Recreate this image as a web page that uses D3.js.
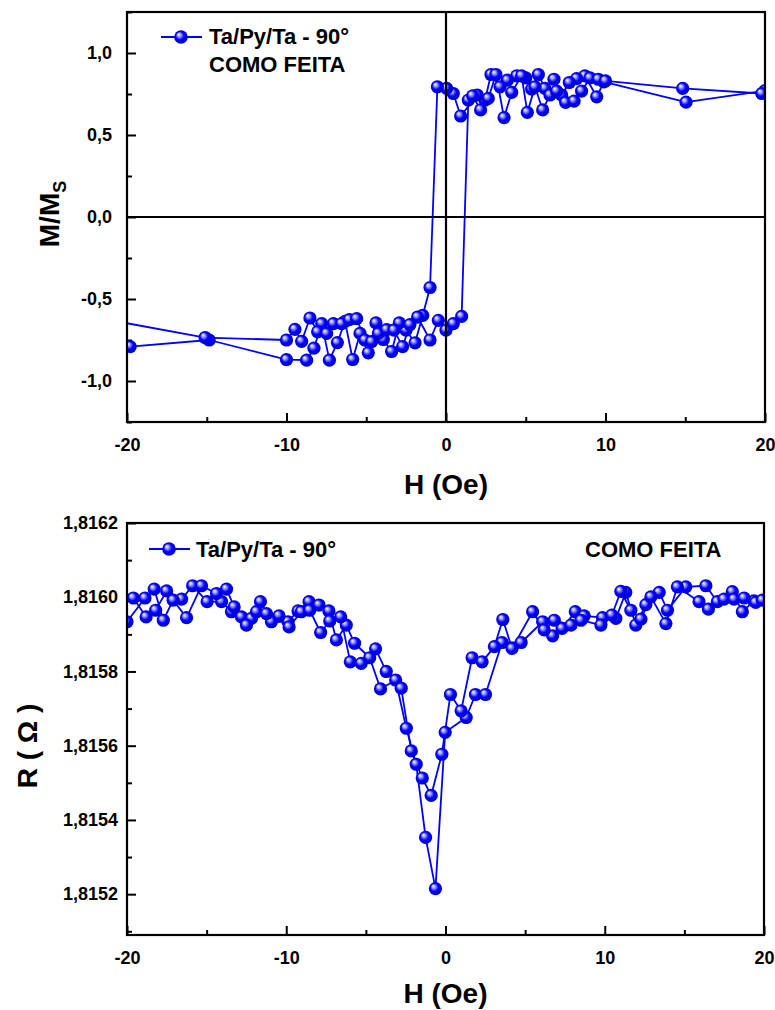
<!DOCTYPE html>
<html>
<head>
<meta charset="utf-8">
<script src="https://cdn.jsdelivr.net/npm/d3@7"></script>
<style>
body { margin: 0; background: #fff; }
</style>
</head>
<body>
<div id="chart"></div>
<script>
// Ciclo de histerese M/Ms (ramo descendente e ascendente)
var magDescH = [20, 15.05, 9.9, 9.45, 8.71, 8.19, 7.73, 7.25, 6.77, 6.2, 5.79, 5.37, 5.0, 4.43, 3.85, 3.39, 2.82, 2.45, 1.96, 0.92, 0.46, 0.04, -0.54, -1.0, -1.46, -1.94, -2.51, -2.93, -3.41, -3.93, -4.39, -4.87, -5.39, -5.85, -6.33, -6.81, -7.31, -7.79, -8.28, -8.74, -10.0, -14.85, -19.8];
var magDescM = [0.77, 0.70, 0.824, 0.733, 0.861, 0.844, 0.82, 0.744, 0.84, 0.784, 0.869, 0.78, 0.848, 0.861, 0.834, 0.794, 0.869, 0.713, 0.744, 0.616, 0.753, 0.784, 0.794, -0.43, -0.60, -0.767, -0.69, -0.646, -0.82, -0.747, -0.646, -0.828, -0.71, -0.869, -0.636, -0.766, -0.873, -0.65, -0.80, -0.873, -0.87, -0.75, -0.79];
var magAscH = [-21, -15.1, -10, -9.47, -9.05, -8.53, -8.05, -7.48, -7.06, -6.54, -6.06, -5.6, -5.08, -4.66, -4.24, -3.72, -3.26, -2.72, -2.26, -1.78, -1.0, -0.48, 0, 0.46, 0.98, 1.4, 1.67, 2.17, 2.65, 3.13, 3.64, 4.12, 4.74, 5.1, 5.58, 6.06, 6.52, 6.94, 7.5, 8.03, 8.5, 9.03, 9.55, 10.0, 14.84, 19.8];
var magAscM = [-0.63, -0.735, -0.75, -0.685, -0.758, -0.616, -0.70, -0.71, -0.65, -0.65, -0.626, -0.62, -0.75, -0.76, -0.71, -0.687, -0.69, -0.79, -0.656, -0.61, -0.75, -0.63, -0.69, -0.65, -0.606, 0.713, 0.739, 0.653, 0.723, 0.869, 0.606, 0.76, 0.861, 0.638, 0.794, 0.653, 0.744, 0.768, 0.699, 0.707, 0.768, 0.848, 0.84, 0.83, 0.784, 0.753];

// Magnetorresistencia R (ohm), dois ramos
var resAH = [-19.6, -18.8, -18.2, -17.51, -16.57, -15.88, -14.97, -14.06, -13.44, -12.81, -12.18, -11.62, -10.93, -9.89, -9.26, -8.57, -7.94, -7.32, -6.85, -6.23, -5.71, -4.76, -4.08, -3.13, -2.46, -1.84, -1.25, -0.63, -0.02, 1.3, 1.88, 2.51, 3.55, 4.75, 6.1, 6.73, 7.32, 8.15, 8.71, 9.86, 10.7, 11.32, 11.95, 12.58, 13.42, 13.94, 15.09, 16.35, 17.07, 18.01, 18.64, 19.37];
var resAR = [1.815998, 1.815947, 1.815965, 1.816017, 1.815995, 1.816031, 1.815988, 1.815988, 1.815961, 1.815947, 1.815943, 1.815988, 1.815934, 1.815934, 1.815963, 1.815988, 1.815979, 1.815963, 1.815885, 1.815925, 1.815876, 1.815837, 1.815753, 1.815777, 1.815647, 1.81555, 1.815353, 1.815215, 1.815636, 1.815676, 1.815738, 1.815738, 1.815878, 1.815878, 1.815934, 1.815896, 1.815916, 1.815961, 1.81595, 1.815945, 1.815943, 1.816013, 1.815925, 1.81598, 1.816013, 1.815965, 1.816028, 1.816031, 1.815988, 1.816015, 1.815961, 1.81599];
var resBH = [-20.0, -18.87, -18.29, -17.72, -17.1, -16.26, -15.32, -14.38, -13.75, -13.27, -12.5, -11.87, -11.24, -10.45, -9.82, -9.05, -8.53, -7.84, -7.27, -6.58, -5.98, -5.29, -4.39, -3.72, -2.78, -2.15, -1.46, -0.9, -0.23, 0.31, 0.98, 1.67, 2.3, 3.07, 3.6, 4.18, 5.47, 6.2, 6.83, 7.88, 8.51, 9.76, 10.45, 11.01, 11.64, 12.27, 12.9, 13.84, 14.56, 15.92, 16.51, 17.49, 18.12, 18.75, 19.48, 19.9];
var resBR = [1.815934, 1.815998, 1.816022, 1.815938, 1.815992, 1.815945, 1.816031, 1.81601, 1.816022, 1.815974, 1.815925, 1.815961, 1.815956, 1.81595, 1.81592, 1.815961, 1.815965, 1.815905, 1.815936, 1.815947, 1.815826, 1.815822, 1.815861, 1.8158, 1.815755, 1.815586, 1.815513, 1.815466, 1.815577, 1.815738, 1.815694, 1.815837, 1.815826, 1.815867, 1.81594, 1.815862, 1.815961, 1.815912, 1.815938, 1.815925, 1.815938, 1.815925, 1.815952, 1.816016, 1.815965, 1.815941, 1.816001, 1.815929, 1.816028, 1.815988, 1.815968, 1.815995, 1.815995, 1.815998, 1.815986, 1.815992];

// Ticks
var hTicks = [-20, -10, 0, 10, 20];
var hMinor = [-15, -5, 5, 15];
var magTicks = [-1, -0.5, 0, 0.5, 1];
var magMinor = [-1.25, -0.75, -0.25, 0.25, 0.75, 1.25];
var resTicks = [1.8152, 1.8154, 1.8156, 1.8158, 1.8160, 1.8162];
var resMinor = [1.8151, 1.8153, 1.8155, 1.8157, 1.8159, 1.8161];

var legendText = "Ta/Py/Ta - 90\u00b0";
var stateText = "COMO FEITA";

var FONT = "'Liberation Sans', Arial, sans-serif";
var BLUE = "#0000ff";

var svg = d3.select("#chart")
	.append("svg")
	.attr("width", 775)
	.attr("height", 1010);

// Gradiente da esfera
var grad = svg.append("defs").append("radialGradient")
	.attr("id", "ball")
	.attr("cx", "50%").attr("cy", "50%").attr("r", "55%")
	.attr("fx", "32%").attr("fy", "30%");
grad.append("stop").attr("offset", "0%").attr("stop-color", "#ffffff");
grad.append("stop").attr("offset", "22%").attr("stop-color", "#a8a8ff");
grad.append("stop").attr("offset", "55%").attr("stop-color", "#0000ff");
grad.append("stop").attr("offset", "100%").attr("stop-color", "#0000c0");

function styleAxis(g, size) {
	g.select(".domain").remove();
	g.selectAll("line").attr("stroke", "#000").attr("stroke-width", 2);
	g.selectAll("text")
		.attr("font-family", FONT)
		.attr("font-weight", "bold")
		.attr("font-size", size)
		.attr("fill", "#000");
}

function panel(opt) {
	var x = d3.scaleLinear().domain([-20, 20]).range([opt.left, opt.right]);
	var y = d3.scaleLinear().domain(opt.yDomain).range([opt.bottom, opt.top]);

	svg.append("clipPath").attr("id", opt.id + "clip")
		.append("rect")
		.attr("x", opt.left).attr("y", opt.top)
		.attr("width", opt.right - opt.left).attr("height", opt.bottom - opt.top);

	// Eixo x (ticks para dentro)
	var gx = svg.append("g")
		.attr("transform", "translate(0," + opt.bottom + ")")
		.call(d3.axisBottom(x).tickValues(hTicks).tickSize(-9).tickPadding(opt.xPad).tickFormat(d3.format("d")));
	styleAxis(gx, 18);
	gx.selectAll("text").text(function(d) { return String(d); });
	var gxm = svg.append("g")
		.attr("transform", "translate(0," + opt.bottom + ")")
		.call(d3.axisBottom(x).tickValues(hMinor).tickSize(-5).tickFormat(""));
	styleAxis(gxm, 18);

	// Eixo y
	var gy = svg.append("g")
		.attr("transform", "translate(" + opt.left + ",0)")
		.call(d3.axisLeft(y).tickValues(opt.yTicks).tickSize(-9).tickPadding(opt.yPad).tickFormat(opt.fmt));
	styleAxis(gy, 18);
	var gym = svg.append("g")
		.attr("transform", "translate(" + opt.left + ",0)")
		.call(d3.axisLeft(y).tickValues(opt.yMinor).tickSize(-5).tickFormat(""));
	styleAxis(gym, 18);

	var plot = svg.append("g").attr("clip-path", "url(#" + opt.id + "clip)");
	var line = d3.line()
		.x(function(d) { return x(d[0]); })
		.y(function(d) { return y(d[1]); });

	opt.series.forEach(function(s) {
		plot.append("path")
			.datum(s)
			.attr("d", line)
			.attr("fill", "none")
			.attr("stroke", BLUE)
			.attr("stroke-width", 1.8)
			.attr("stroke-linejoin", "round");
	});
	opt.series.forEach(function(s) {
		plot.selectAll(null)
			.data(s)
			.enter()
			.append("circle")
			.attr("cx", function(d) { return x(d[0]); })
			.attr("cy", function(d) { return y(d[1]); })
			.attr("r", 6.6)
			.attr("fill", "url(#ball)");
	});

	// Linhas de zero (apenas no grafico M/Ms)
	if (opt.zeroLines) {
		svg.append("line")
			.attr("x1", x(0)).attr("x2", x(0))
			.attr("y1", opt.top).attr("y2", opt.bottom)
			.attr("stroke", "#000").attr("stroke-width", 2.2);
		svg.append("line")
			.attr("x1", opt.left).attr("x2", opt.right)
			.attr("y1", y(0)).attr("y2", y(0))
			.attr("stroke", "#000").attr("stroke-width", 2.2);
	}

	// Moldura
	svg.append("rect")
		.attr("x", opt.left).attr("y", opt.top)
		.attr("width", opt.right - opt.left).attr("height", opt.bottom - opt.top)
		.attr("fill", "none")
		.attr("stroke", "#000")
		.attr("stroke-width", 2.2);

	// Titulo eixo x
	svg.append("text")
		.attr("x", (opt.left + opt.right) / 2)
		.attr("y", opt.xTitleY)
		.attr("text-anchor", "middle")
		.attr("font-family", FONT)
		.attr("font-weight", "bold")
		.attr("font-size", 28)
		.text("H (Oe)");

	return {x: x, y: y};
}

function legend(lx, ly) {
	svg.append("line")
		.attr("x1", lx - 20).attr("x2", lx + 21)
		.attr("y1", ly).attr("y2", ly)
		.attr("stroke", BLUE).attr("stroke-width", 1.8);
	svg.append("circle")
		.attr("cx", lx).attr("cy", ly).attr("r", 6.8)
		.attr("fill", "url(#ball)");
}

function label(tx, ty, txt) {
	svg.append("text")
		.attr("x", tx).attr("y", ty)
		.attr("font-family", FONT)
		.attr("font-weight", "bold")
		.attr("font-size", 22)
		.text(txt);
}

// Grafico de cima: M/Ms
panel({
	id: "mag",
	left: 127, right: 765, top: 12, bottom: 422,
	yDomain: [-1.25, 1.25],
	yTicks: magTicks, yMinor: magMinor,
	fmt: function(d) { return d.toFixed(1).replace(".", ","); },
	xPad: 16, yPad: 15,
	xTitleY: 494,
	zeroLines: true,
	series: [d3.zip(magDescH, magDescM), d3.zip(magAscH, magAscM)]
});
legend(181, 37);
label(209, 44, legendText);
label(209, 72, stateText);

svg.append("text")
	.attr("transform", "translate(59,214) rotate(-90)")
	.attr("text-anchor", "middle")
	.attr("font-family", FONT)
	.attr("font-weight", "bold")
	.attr("font-size", 28)
	.text("M/M")
	.append("tspan")
	.attr("font-size", 18)
	.attr("dy", 7)
	.text("S");

// Grafico de baixo: R
panel({
	id: "res",
	left: 127, right: 764, top: 523, bottom: 935,
	yDomain: [1.81509, 1.8162],
	yTicks: resTicks, yMinor: resMinor,
	fmt: function(d) { return d.toFixed(4).replace(".", ","); },
	xPad: 16, yPad: 9,
	xTitleY: 1003,
	zeroLines: false,
	series: [d3.zip(resAH, resAR), d3.zip(resBH, resBR)]
});
legend(169, 549);
label(196, 557, legendText);
label(585, 557, stateText);

svg.append("text")
	.attr("transform", "translate(37,746) rotate(-90)")
	.attr("text-anchor", "middle")
	.attr("font-family", FONT)
	.attr("font-weight", "bold")
	.attr("font-size", 28)
	.text("R ( \u03a9 )");
</script>
</body>
</html>
